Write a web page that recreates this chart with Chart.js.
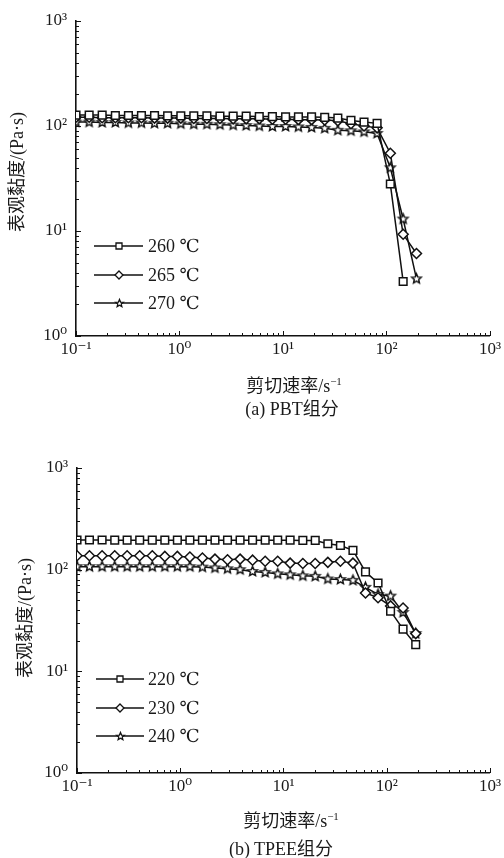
<!DOCTYPE html>
<html><head><meta charset="utf-8">
<script src="https://cdn.jsdelivr.net/npm/chart.js@4.4.1/dist/chart.umd.min.js"></script>
<style>
html,body{margin:0;padding:0;background:#fff;width:504px;height:858px;overflow:hidden;}
.wrap{position:absolute;left:0;width:504px;}
canvas{position:absolute;left:0;top:0;}
.t{position:absolute;font-family:"Liberation Serif","Noto Sans CJK SC",serif;color:#1a1a1a;white-space:nowrap;font-size:18px;line-height:1;}
.yt{transform:translate(-50%,-50%) rotate(-90deg);}
.ct{transform:translate(-50%,-50%);}
.t sup{font-size:11px;vertical-align:0;position:relative;top:-7px;}
</style></head>
<body>
<div class="wrap" style="top:0;height:430px"><canvas id="c1" width="504" height="430"></canvas></div>
<div class="wrap" style="top:430px;height:428px"><canvas id="c2" width="504" height="428"></canvas></div>
<div class="t yt" style="left:17px;top:172px">表观黏度/(Pa·s)</div>
<div class="t ct" style="left:294px;top:386px">剪切速率/s<sup>−1</sup></div>
<div class="t ct" style="left:292px;top:409px">(a) PBT组分</div>
<div class="t yt" style="left:25px;top:618px">表观黏度/(Pa·s)</div>
<div class="t ct" style="left:291px;top:821px">剪切速率/s<sup>−1</sup></div>
<div class="t ct" style="left:281px;top:849px">(b) TPEE组分</div>
<script>
// ---- data ----
const xTickLabels = ['10\u207B\u00B9','10\u2070','10\u00B9','10\u00B2','10\u00B3'];
const xMajor = [0.1, 1, 10, 100, 1000];
const yTickLabels = ['10\u2070','10\u00B9','10\u00B2','10\u00B3'];
const yMajor = [1, 10, 100, 1000];

// (a) PBT
const rateA = [0.1,0.134,0.179,0.24,0.321,0.429,0.574,0.768,1.03,1.375,1.84,2.46,3.3,4.41,5.9,7.9,10.6,14.1,18.9,25.3,33.9,45.4,60.7,81.2,109,145,195];
const pbt260 = [127,127,127,126,126,126,126,125,125,125,125,124,124,124,123,123,122,122,122,121,119,113,109,106,28,3.3];
const pbt265 = [121,121,120,120,120,120,119,119,119,118,118,118,117,117,117,116,116,115,115,114,112,105,100,96,55,9.3,6.1];
const pbt270 = [109,109,108,108,107,107,106,106,105,104,104,103,102,101,100,99,99,98,97,95,91,90,88,85,40,13,3.5];
const labelsA = ['260 ℃','265 ℃','270 ℃'];

// (b) TPEE
const rateB = [0.1,0.132,0.175,0.232,0.306,0.405,0.536,0.709,0.938,1.24,1.64,2.17,2.87,3.8,5.02,6.65,8.79,11.6,15.4,20.3,26.9,35.6,47.1,62.3,82.4,109,144,191];
const tpee220 = [196,196,196,195,195,195,195,195,195,195,195,195,195,195,195,195,195,195,194,194,180,173,155,95,74,39,26,18.3];
const tpee230 = [137,137,137,137,137,137,137,135,135,133,130,127,125,127,124,121,121,116,115,115,118,121,116,59,53,44,42,23.5];
const tpee240 = [107,107,107,107,107,107,107,107,107,107,106,104,102,100,96,94,91,89,87,86,81,80,78.5,67,57,55,38,23.5];
const labelsB = ['220 ℃','230 ℃','240 ℃'];

// ---- styling ----
const INK = '#111';
const FONT = '"Liberation Serif", "DejaVu Serif", "Noto Sans CJK SC", serif';

function starCanvas(outer, inner, lw){
  const s = Math.ceil(outer*2 + lw*2 + 2);
  const c = document.createElement('canvas'); c.width = s; c.height = s;
  const g = c.getContext('2d');
  g.beginPath();
  for (let k = 0; k < 10; k++){
    const r = k % 2 ? inner : outer;
    const a = -Math.PI/2 + k*Math.PI/5;
    const px = s/2 + r*Math.cos(a), py = s/2 + r*Math.sin(a);
    k ? g.lineTo(px,py) : g.moveTo(px,py);
  }
  g.closePath();
  g.fillStyle = '#fff'; g.fill();
  g.lineWidth = lw; g.strokeStyle = INK; g.stroke();
  return c;
}
const starBig = starCanvas(5, 2.3, 1.5);
const starSmall = starCanvas(4, 1.8, 1.3);

function ds(label, xs, ys, style, r){
  return {label, data: ys.map((v,i)=>({x: xs[i], y: v})), borderColor: INK, borderWidth: 1.5,
    pointStyle: style, pointRadius: r, pointBorderWidth: 1.5, pointBorderColor: INK,
    pointBackgroundColor: '#fff', fill: false, tension: 0};
}

const minorPlugin = {
  id: 'minorTicks',
  afterDraw(chart){
    const {ctx, chartArea: ca, scales: {x, y}} = chart;
    ctx.save(); ctx.strokeStyle = INK; ctx.lineWidth = 1; ctx.beginPath();
    for (let e = 0.1; e < 1000; e *= 10){
      for (let m = 1; m <= 10; m++){
        const v = e*m; if (v > 1000.0001) break;
        const major = (m === 1 || m === 10);
        const px = Math.round(x.getPixelForValue(v)) + 0.5;
        const len = major ? 5 : 3;
        ctx.moveTo(px, ca.bottom); ctx.lineTo(px, ca.bottom - len);
      }
    }
    for (let e = 1; e < 1000; e *= 10){
      for (let m = 1; m <= 10; m++){
        const v = e*m; if (v > 1000.0001) break;
        const major = (m === 1 || m === 10);
        const py = Math.round(y.getPixelForValue(v)) + 0.5;
        const len = major ? 5 : 3;
        ctx.moveTo(ca.left, py); ctx.lineTo(ca.left + len, py);
      }
    }
    ctx.stroke(); ctx.restore();
  }
};

const legendPlugin = {
  id: 'innerLegend',
  afterDraw(chart, args, o){
    const ctx = chart.ctx; ctx.save();
    chart.data.datasets.forEach((d, i) => {
      const yy = o.ys[i];
      ctx.strokeStyle = INK; ctx.lineWidth = 1.3;
      ctx.beginPath(); ctx.moveTo(o.x1, yy); ctx.lineTo(o.x2, yy); ctx.stroke();
      const mx = o.mx;
      ctx.fillStyle = '#fff'; ctx.lineWidth = 1.3;
      if (d.pointStyle === 'rect'){
        ctx.beginPath(); ctx.rect(mx-3, yy-3, 6, 6); ctx.fill(); ctx.stroke();
      } else if (d.pointStyle === 'rectRot'){
        ctx.beginPath(); ctx.moveTo(mx, yy-4); ctx.lineTo(mx+4, yy); ctx.lineTo(mx, yy+4); ctx.lineTo(mx-4, yy); ctx.closePath(); ctx.fill(); ctx.stroke();
      } else {
        ctx.drawImage(starSmall, Math.round(mx - starSmall.width/2), Math.round(yy - starSmall.height/2));
      }
      ctx.fillStyle = '#1a1a1a'; ctx.font = '18px ' + FONT; ctx.textBaseline = 'middle'; ctx.textAlign = 'left';
      ctx.fillText(d.label, o.tx, yy + 1);
    });
    ctx.restore();
  }
};

function options(area, H, leg){
  return {
    responsive: false, animation: false, devicePixelRatio: 1,
    layout: {autoPadding: false, padding: {left: 0, right: 504 - area.right, top: area.top, bottom: 0}},
    plugins: {legend: {display: false}, tooltip: {enabled: false}, innerLegend: leg},
    scales: {
      x: {type: 'logarithmic', position: 'bottom', min: 0.1, max: 1000,
        afterBuildTicks: s => { s.ticks = xMajor.map(v => ({value: v})); },
        afterFit: s => { s.height = H - area.bottom; },
        grid: {display: false, drawTicks: false},
        border: {display: true, color: INK, width: 1.6},
        ticks: {padding: 3, color: '#1a1a1a', autoSkip: false, maxRotation: 0,
          font: {family: FONT, size: 17},
          callback: v => xTickLabels[xMajor.findIndex(m => Math.abs(m - v) < 1e-9)]}
      },
      y: {type: 'logarithmic', position: 'left', min: 1, max: 1000,
        afterBuildTicks: s => { s.ticks = yMajor.map(v => ({value: v})); },
        afterFit: s => { s.width = area.left; },
        grid: {display: false, drawTicks: false},
        border: {display: true, color: INK, width: 1.6},
        ticks: {padding: 9, color: '#1a1a1a', autoSkip: false,
          font: {family: FONT, size: 17},
          callback: v => yTickLabels[yMajor.findIndex(m => Math.abs(m - v) < 1e-9)]}
      }
    }
  };
}

new Chart(document.getElementById('c1'), {
  type: 'line',
  data: {datasets: [
    ds(labelsA[0], rateA, pbt260, 'rect', 5.4),
    ds(labelsA[1], rateA, pbt265, 'rectRot', 5),
    ds(labelsA[2], rateA, pbt270, starBig, 5)
  ]},
  options: options({left: 76, right: 492, top: 21, bottom: 336}, 430,
    {x1: 94, x2: 143, mx: 119, tx: 148, ys: [246, 275, 303]}),
  plugins: [minorPlugin, legendPlugin]
});

new Chart(document.getElementById('c2'), {
  type: 'line',
  data: {datasets: [
    ds(labelsB[0], rateB, tpee220, 'rect', 5.4),
    ds(labelsB[1], rateB, tpee230, 'rectRot', 5),
    ds(labelsB[2], rateB, tpee240, starBig, 5)
  ]},
  options: options({left: 77, right: 494, top: 38, bottom: 343}, 428,
    {x1: 96, x2: 144, mx: 120, tx: 148, ys: [249, 278, 306]}),
  plugins: [minorPlugin, legendPlugin]
});
</script>
</body></html>
